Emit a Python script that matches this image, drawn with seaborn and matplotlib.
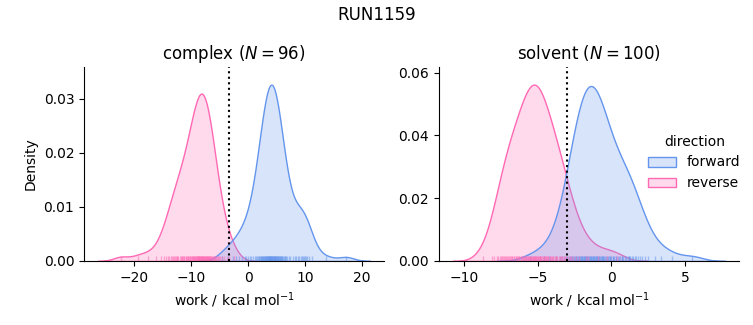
import numpy as np
import pandas as pd
import seaborn as sns
import matplotlib
matplotlib.use("Agg")
import matplotlib.pyplot as plt

# ---- data (work values, kcal/mol) ----
complex_forward = [
    -4.6, -3.5, -2.7, -2.1, -1.6, -1.1, -0.6, -0.29, -0.1, 0.4, 0.46, 0.86, 1.14,
    1.36, 1.54, 1.70, 1.85, 1.98, 2.10, 2.21, 2.31, 2.41, 2.50, 2.59, 2.68, 2.76,
    2.84, 2.92, 2.99, 3.07, 3.14, 3.21, 3.28, 3.35, 3.41, 3.48, 3.54, 3.61, 3.67,
    3.73, 3.79, 3.85, 3.92, 3.98, 4.04, 4.10, 4.16, 4.22, 4.28, 4.35, 4.41, 4.47,
    4.53, 4.59, 4.66, 4.72, 4.79, 4.85, 4.92, 4.99, 5.06, 5.13, 5.21, 5.28, 5.36,
    5.44, 5.52, 5.61, 5.70, 5.79, 5.89, 6.00, 6.12, 6.25, 6.39, 6.54, 6.71, 6.90,
    7.14, 7.44, 7.84, 8.23, 8.49, 8.72, 9.01, 9.23, 9.43, 9.61, 9.79, 9.97, 10.17,
    10.39, 10.68, 11.17, 13.6, 17.2,
]
complex_reverse = [
    -22.3, -19.3, -17.6, -16.17, -15.26, -14.76, -14.40, -14.10, -13.84, -13.60,
    -13.38, -13.17, -12.98, -12.78, -12.59, -12.46, -12.41, -12.22, -12.02, -11.83,
    -11.66, -11.62, -11.40, -11.24, -11.16, -10.95, -10.90, -10.71, -10.60, -10.51,
    -10.34, -10.24, -10.18, -10.04, -9.91, -9.79, -9.74, -9.68, -9.57, -9.47, -9.37,
    -9.28, -9.19, -9.10, -9.01, -8.93, -8.85, -8.83, -8.77, -8.70, -8.62, -8.54,
    -8.47, -8.40, -8.33, -8.25, -8.18, -8.11, -8.04, -7.97, -7.90, -7.83, -7.76,
    -7.69, -7.62, -7.55, -7.47, -7.40, -7.33, -7.26, -7.18, -7.10, -7.03, -6.95,
    -6.87, -6.79, -6.70, -6.61, -6.52, -6.43, -6.33, -6.23, -6.12, -6.01, -5.89,
    -5.76, -5.62, -5.46, -5.29, -5.09, -4.85, -4.56, -4.14, -3.7, -3.34, -2.5,
]
solvent_forward = [
    -5.5, -4.6, -4.21, -3.75, -3.51, -3.33, -3.20, -3.08, -2.98, -2.89, -2.81,
    -2.74, -2.67, -2.61, -2.55, -2.49, -2.43, -2.38, -2.33, -2.28, -2.23, -2.18,
    -2.14, -2.09, -2.05, -2.01, -1.97, -1.93, -1.89, -1.85, -1.81, -1.77, -1.73,
    -1.69, -1.65, -1.61, -1.58, -1.54, -1.46, -1.42, -1.39, -1.35, -1.31, -1.27,
    -1.23, -1.19, -1.15, -1.11, -1.07, -1.03, -0.99, -0.95, -0.91, -0.86, -0.82,
    -0.77, -0.72, -0.67, -0.62, -0.57, -0.55, -0.51, -0.45, -0.39, -0.33, -0.26,
    -0.19, -0.11, -0.11, -0.02, 0.08, 0.13, 0.20, 0.31, 0.33, 0.46, 0.51, 0.59,
    0.70, 0.75, 0.81, 0.91, 1.01, 1.11, 1.20, 1.21, 1.29, 1.39, 1.49, 1.59, 1.70,
    1.81, 1.94, 2.09, 2.27, 2.51, 2.95, 3.4, 4.1, 5.5,
]
solvent_reverse = [
    -8.7, -8.12, -7.94, -7.80, -7.68, -7.58, -7.49, -7.40, -7.33, -7.32, -7.24,
    -7.16, -7.08, -7.00, -6.96, -6.91, -6.82, -6.76, -6.72, -6.61, -6.60, -6.50,
    -6.46, -6.40, -6.32, -6.28, -6.24, -6.17, -6.11, -6.05, -5.99, -5.95, -5.94,
    -5.88, -5.83, -5.79, -5.74, -5.69, -5.65, -5.60, -5.56, -5.52, -5.48, -5.43,
    -5.39, -5.35, -5.31, -5.27, -5.25, -5.22, -5.18, -5.14, -5.10, -5.05, -5.01,
    -4.96, -4.91, -4.87, -4.82, -4.82, -4.76, -4.71, -4.65, -4.59, -4.59, -4.53,
    -4.46, -4.42, -4.38, -4.30, -4.28, -4.20, -4.16, -4.09, -4.05, -3.95, -3.94,
    -3.85, -3.76, -3.74, -3.67, -3.59, -3.50, -3.42, -3.37, -3.33, -3.24, -3.15,
    -3.05, -2.95, -2.84, -2.72, -2.58, -2.41, -2.18, -1.75, -1.6, -0.9, -0.3, 0.4,
]
phases = ["complex", "solvent"]
directions = ["forward", "reverse"]
n_samples = {"complex": 96, "solvent": 100}
dg_estimate = {"complex": -3.3, "solvent": -3.04}
colors = {"forward": "cornflowerblue", "reverse": "hotpink"}
run_name = "RUN1159"

series = {
    ("complex", "forward"): complex_forward,
    ("complex", "reverse"): complex_reverse,
    ("solvent", "forward"): solvent_forward,
    ("solvent", "reverse"): solvent_reverse,
}
rows = []
for (ph, d), vals in series.items():
    for v in vals:
        rows.append({"phase": ph, "direction": d, "work": v})
df = pd.DataFrame(rows)

g = sns.displot(
    data=df, x="work", hue="direction", col="phase", kind="kde",
    fill=True, rug=True, common_norm=True, palette=colors,
    hue_order=directions, col_order=phases,
    rug_kws=dict(alpha=0.5),
    facet_kws=dict(sharex=False, sharey=False),
    height=3.0, aspect=1.2,
)
fig = g.figure
fig.set_size_inches(7.53, 3.25)
fig.subplots_adjust(left=0.1116, right=0.9814, bottom=0.197, top=0.794, wspace=0.183)

for ax, ph in zip(g.axes.flat, phases):
    ax.axvline(dg_estimate[ph], color="k", ls=":", lw=1.5)
    ax.set_title(f"{ph} ($N = {n_samples[ph]}$)", fontsize=12)
    ax.set_xlabel("work / kcal mol$^{-1}$")
g.axes.flat[0].set_ylabel("Density")
g.axes.flat[1].set_ylabel("")

sns.move_legend(g, "center left", bbox_to_anchor=(0.844, 0.5), frameon=False)
fig.suptitle(run_name, fontsize=12)

fig.savefig("out.png", dpi=100)
